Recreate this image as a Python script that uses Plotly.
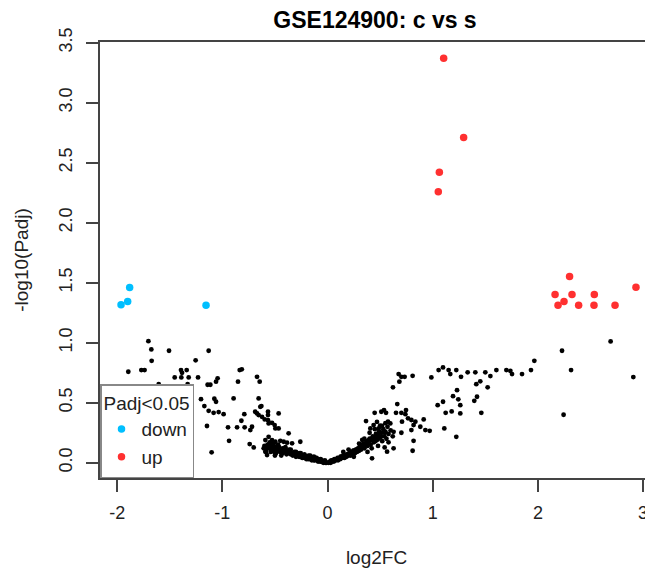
import plotly.graph_objects as go

# non-significant genes (log2FC, -log10(Padj))
ns_x = [
    -1.894, -1.770, -1.739, -1.703, -1.675, -1.672, -1.605, -1.507, -1.453, -1.393,
    -1.339, -1.383, -1.390, -1.320, -1.330, -1.254, -1.231, -1.203, -1.171, -1.140,
    -1.114, -1.130, -1.045, -1.060, -1.076, -1.060, -1.130, -1.083, -1.035, -0.988,
    -1.146, -1.102, -0.946, -0.860, -0.788, -0.819, -0.791, -0.718, -0.639, -0.936,
    -0.740, -0.702, -0.835, -0.815, -0.670, -0.645, -0.851, -0.893, -0.655, -0.629,
    -0.688, -0.670, -0.655, -0.623, -0.597, -0.566, -0.560, -0.528, -0.503, -0.496,
    -0.465, -0.566, -0.566, -0.465, -0.734, -0.370, -0.591, -0.560, -0.528, -0.496,
    -0.449, -0.417, -0.385, -0.337, -0.259, -0.607, -0.591, -0.575,
    0.423, 0.543, 0.566, 0.628, 0.809, 0.818, 0.628, 0.702, 0.366, 0.407,
    0.438, 0.486, 0.518, 0.575, 0.597, 0.708, 0.448, 0.511, 0.537, 0.556,
    0.651, 0.702, 0.746, 0.740, 0.765, 0.797, 0.835, 0.914, 0.818, 0.797,
    0.882, 0.930, 0.971, 0.663, 0.622, 0.683, 0.676, 0.702, 0.733, 0.809,
    0.987, 1.110, 1.224, 1.047, 1.098, 1.262, 1.123, 1.180, 1.262, 1.462,
    1.193, 1.243, 1.421, 1.395, 1.231, 1.414, 1.452, 1.522, 1.056, 1.098,
    1.151, 1.167, 1.224, 1.269, 1.332, 1.405, 1.500, 1.548, 1.605, 1.700,
    1.738, 1.754, 1.849, 1.934, 1.966, 2.229, 2.315, 2.691, 2.907, 2.244,
]
ns_y = [
    0.758, 0.772, 0.772, 1.013, 0.944, 0.849, 0.655, 0.933, 0.711, 0.772,
    0.772, 0.749, 0.711, 0.711, 0.655, 0.853, 0.711, 0.530, 0.472, 0.650,
    0.650, 0.933, 0.703, 0.675, 0.533, 0.508, 0.433, 0.416, 0.422, 0.405,
    0.306, 0.087, 0.295, 0.295, 0.295, 0.350, 0.405, 0.300, 0.466, 0.183,
    0.156, 0.128, 0.772, 0.778, 0.716, 0.675, 0.675, 0.536, 0.536, 0.472,
    0.425, 0.411, 0.397, 0.383, 0.361, 0.355, 0.328, 0.333, 0.314, 0.286,
    0.286, 0.425, 0.397, 0.411, 0.272, 0.245, 0.189, 0.216, 0.189, 0.175,
    0.183, 0.175, 0.167, 0.162, 0.175, 0.120, 0.092, 0.064,
    0.037, 0.128, 0.092, 0.120, 0.100, 0.183, 0.258, 0.250, 0.347, 0.286,
    0.314, 0.286, 0.306, 0.342, 0.328, 0.342, 0.416, 0.425, 0.439, 0.416,
    0.416, 0.416, 0.439, 0.405, 0.370, 0.356, 0.342, 0.361, 0.314, 0.272,
    0.300, 0.272, 0.266, 0.489, 0.628, 0.675, 0.739, 0.716, 0.716, 0.724,
    0.711, 0.286, 0.216, 0.480, 0.508, 0.480, 0.416, 0.428, 0.411, 0.416,
    0.555, 0.528, 0.550, 0.516, 0.605, 0.655, 0.678, 0.628, 0.772, 0.794,
    0.772, 0.739, 0.772, 0.716, 0.753, 0.753, 0.753, 0.722, 0.772, 0.772,
    0.766, 0.739, 0.739, 0.772, 0.849, 0.933, 0.772, 1.011, 0.714, 0.400,
]

# dense core of small fold changes
core_x = [
    -0.60, -0.58, -0.57, -0.55, -0.54, -0.53, -0.52, -0.51, -0.50, -0.49,
    -0.48, -0.47, -0.46, -0.45, -0.44, -0.43, -0.42, -0.41, -0.40, -0.39,
    -0.38, -0.37, -0.36, -0.35, -0.34, -0.33, -0.32, -0.31, -0.30, -0.29,
    -0.28, -0.27, -0.26, -0.25, -0.24, -0.23, -0.22, -0.21, -0.20, -0.19,
    -0.18, -0.17, -0.16, -0.15, -0.14, -0.13, -0.12, -0.11, -0.10, -0.09,
    -0.08, -0.07, -0.06, -0.05, -0.04, -0.03, -0.02, -0.01,
    -0.52, -0.47, -0.44, -0.40, -0.35, -0.30, -0.27, -0.22, -0.18, -0.13,
    -0.50, -0.55,
    -0.585, -0.565, -0.535, -0.505, -0.475, -0.445, -0.415, -0.385, -0.355, -0.325,
    -0.295, -0.265, -0.235, -0.205, -0.175, -0.145, -0.115, -0.085, -0.055, -0.025,
    -0.545, -0.485, -0.425, -0.365, -0.315, -0.255, -0.215, -0.165, -0.105, -0.065,
    0.01, 0.02, 0.03, 0.04, 0.05, 0.06, 0.07, 0.08, 0.09, 0.10,
    0.11, 0.12, 0.13, 0.14, 0.15, 0.16, 0.17, 0.18, 0.19, 0.20,
    0.21, 0.22, 0.23, 0.24, 0.25, 0.26, 0.27, 0.28, 0.29, 0.30,
    0.31, 0.32, 0.33, 0.34, 0.35, 0.36, 0.37, 0.38, 0.39, 0.40,
    0.41, 0.42, 0.43, 0.44, 0.45, 0.46, 0.47, 0.48, 0.49, 0.50,
    0.51, 0.52, 0.53, 0.54, 0.55, 0.56, 0.57, 0.58, 0.60, 0.62,
    0.15, 0.20, 0.25, 0.30, 0.35, 0.38, 0.42, 0.45, 0.48, 0.50,
    0.55, 0.58, 0.47, 0.40, 0.33,
    0.035, 0.065, 0.095, 0.125, 0.155, 0.185, 0.215, 0.245, 0.275, 0.305,
    0.335, 0.365, 0.395, 0.425, 0.455, 0.485, 0.515, 0.545,
]
core_y = [
    0.14, 0.11, 0.15, 0.12, 0.09, 0.13, 0.10, 0.14, 0.11, 0.08,
    0.12, 0.10, 0.13, 0.09, 0.11, 0.08, 0.10, 0.12, 0.09, 0.07,
    0.10, 0.08, 0.09, 0.07, 0.08, 0.06, 0.08, 0.07, 0.05, 0.07,
    0.06, 0.05, 0.07, 0.05, 0.04, 0.05, 0.04, 0.05, 0.03, 0.04,
    0.03, 0.04, 0.03, 0.02, 0.03, 0.02, 0.02, 0.03, 0.02, 0.01,
    0.02, 0.01, 0.01, 0.01, 0.00, 0.01, 0.00, 0.00,
    0.16, 0.15, 0.06, 0.13, 0.11, 0.09, 0.08, 0.07, 0.06, 0.05,
    0.06, 0.17,
    0.09, 0.13, 0.11, 0.09, 0.11, 0.10, 0.09, 0.08, 0.10, 0.07,
    0.06, 0.06, 0.06, 0.04, 0.05, 0.04, 0.04, 0.03, 0.02, 0.02,
    0.14, 0.13, 0.12, 0.11, 0.09, 0.08, 0.06, 0.06, 0.04, 0.03,
    0.00, 0.01, 0.00, 0.01, 0.02, 0.01, 0.02, 0.02, 0.03, 0.02,
    0.04, 0.03, 0.05, 0.04, 0.06, 0.04, 0.06, 0.05, 0.07, 0.06,
    0.08, 0.06, 0.09, 0.07, 0.10, 0.08, 0.11, 0.09, 0.12, 0.10,
    0.14, 0.11, 0.13, 0.16, 0.12, 0.15, 0.18, 0.14, 0.17, 0.20,
    0.15, 0.19, 0.22, 0.17, 0.21, 0.24, 0.19, 0.23, 0.26, 0.21,
    0.25, 0.18, 0.28, 0.22, 0.26, 0.20, 0.30, 0.24, 0.27, 0.22,
    0.09, 0.11, 0.05, 0.16, 0.20, 0.09, 0.12, 0.28, 0.14, 0.31,
    0.33, 0.17, 0.34, 0.25, 0.19,
    0.02, 0.03, 0.04, 0.05, 0.06, 0.07, 0.09, 0.10, 0.11, 0.13,
    0.15, 0.16, 0.19, 0.20, 0.18, 0.20, 0.22, 0.25,
]

down_x = [-1.881, -1.900, -1.963, -1.155]
down_y = [1.460, 1.344, 1.316, 1.313]

up_x = [1.104, 1.294, 1.063, 1.053, 2.301, 2.932, 2.163, 2.324, 2.536,
        2.191, 2.248, 2.387, 2.533, 2.733]
up_y = [3.370, 2.709, 2.420, 2.257, 1.552, 1.463, 1.402, 1.402, 1.402,
        1.313, 1.344, 1.313, 1.313, 1.313]

x_ticks = [-2, -1, 0, 1, 2, 3]
x_ticktext = ["-2", "-1", "0", "1", "2", "3"]
y_ticks = [0, 0.5, 1, 1.5, 2, 2.5, 3, 3.5]
y_ticktext = ["0.0", "0.5", "1.0", "1.5", "2.0", "2.5", "3.0", "3.5"]

font = "Liberation Sans, Arial, sans-serif"
ink = "#222222"

fig = go.Figure()
fig.add_trace(go.Scatter(x=ns_x + core_x, y=ns_y + core_y, mode="markers",
                         marker=dict(color="black", size=4.8),
                         showlegend=False, hoverinfo="skip"))
fig.add_trace(go.Scatter(x=down_x, y=down_y, mode="markers", name="down",
                         marker=dict(color="#00BFFF", size=7.5)))
fig.add_trace(go.Scatter(x=up_x, y=up_y, mode="markers", name="up",
                         marker=dict(color="#FF3030", size=7.5)))

axis_common = dict(showgrid=False, zeroline=False, showline=True,
                   linecolor="#444444", linewidth=1.5, ticks="outside",
                   tickcolor="#444444", tickwidth=1.5, automargin=False,
                   tickfont=dict(size=18, color=ink, family=font))

fig.update_layout(
    width=645, height=567,
    margin=dict(l=92, r=0, t=34, b=97),
    paper_bgcolor="white", plot_bgcolor="white",
    font=dict(family=font, color=ink),
    title=dict(text="<b>GSE124900: c vs s</b>", x=0.569, xanchor="center",
               y=0.979, yanchor="middle", font=dict(size=23, color="black"),
               automargin=False),
    xaxis=dict(range=[-2.163, 3.094], tickvals=x_ticks, ticktext=x_ticktext,
               ticklen=12, mirror=True, ticklabelstandoff=6,
               title=dict(text="log2FC", font=dict(size=19, color=ink), standoff=28),
               **axis_common),
    yaxis=dict(range=[-0.127, 3.505], tickvals=y_ticks, ticktext=y_ticktext,
               ticklen=12, tickangle=-90, mirror=False, ticklabelstandoff=7,
               title=dict(text="-log10(Padj)", font=dict(size=19, color=ink), standoff=22),
               **axis_common),
    legend=dict(x=0, y=0, xanchor="left", yanchor="bottom",
                bgcolor="white", bordercolor="#888888", borderwidth=1.5,
                font=dict(size=19, color=ink),
                title=dict(text="Padj<0.05", font=dict(size=19, color=ink)),
                tracegroupgap=0),
)

fig.write_html("out.html")
